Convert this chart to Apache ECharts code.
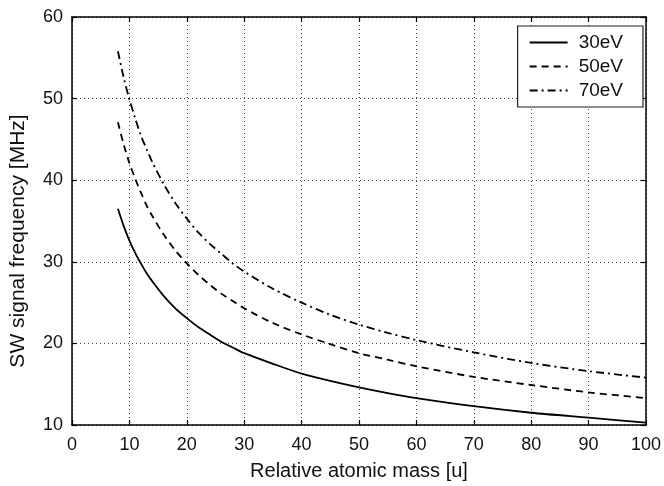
<!DOCTYPE html>
<html><head><meta charset="utf-8">
<script src="https://cdn.jsdelivr.net/npm/echarts@6/dist/echarts.min.js"></script>
<style>html,body{margin:0;padding:0;background:#fff}#c{width:664px;height:486px}</style>
</head><body><div id="c"></div>
<script>
var mass = [8, 9, 10, 11, 12, 13, 14, 16, 18, 20, 22, 24, 26, 28, 30, 35, 40, 45, 50, 55, 60, 70, 80, 90, 100];
var f30 = [36.5, 34.4, 32.6, 31.1, 29.8, 28.6, 27.6, 25.8, 24.3, 23.1, 22.0, 21.1, 20.2, 19.5, 18.8, 17.5, 16.3, 15.4, 14.6, 13.9, 13.3, 12.3, 11.5, 10.9, 10.3];
var f50 = [47.1, 44.4, 42.1, 40.2, 38.5, 36.9, 35.6, 33.3, 31.4, 29.8, 28.4, 27.2, 26.1, 25.2, 24.3, 22.5, 21.1, 19.9, 18.8, 18.0, 17.2, 15.9, 14.9, 14.0, 13.3];
var f70 = [55.8, 52.6, 49.9, 47.6, 45.5, 43.8, 42.2, 39.5, 37.2, 35.3, 33.6, 32.2, 31.0, 29.8, 28.8, 26.7, 25.0, 23.5, 22.3, 21.3, 20.4, 18.9, 17.6, 16.6, 15.8];
var names = ['30eV', '50eV', '70eV'];
var xTicks = [0, 10, 20, 30, 40, 50, 60, 70, 80, 90, 100];
var yTicks = [10, 20, 30, 40, 50, 60];

function pairs(ys){ return mass.map(function(m,i){return [m, ys[i]];}); }
var font = 'Liberation Sans, Arial, sans-serif';
var chart = echarts.init(document.getElementById('c'));
var axisLineStyle = {color:'#000', width:1.5};
function xAx(pos, labels){
  return {type:'value', position:pos, min:xTicks[0], max:xTicks[xTicks.length-1], interval:10,
    axisLine:{show:true, onZero:false, lineStyle:axisLineStyle},
    axisTick:{show:true, inside:true, length:5, lineStyle:{color:'#000', width:1.2}},
    axisLabel:{show:labels, color:'#111', fontSize:18, fontFamily:font, margin:11},
    splitLine:{show:labels, lineStyle:{type:[1,3], color:'#444', width:1}},
    name: labels ? 'Relative atomic mass [u]' : '', nameLocation:'middle', nameGap:36,
    nameTextStyle:{fontSize:20, color:'#111', fontFamily:font}};
}
function yAx(pos, labels){
  return {type:'value', position:pos, min:yTicks[0], max:yTicks[yTicks.length-1], interval:10,
    axisLine:{show:true, onZero:false, lineStyle:axisLineStyle},
    axisTick:{show:true, inside:true, length:5, lineStyle:{color:'#000', width:1.2}},
    axisLabel:{show:labels, color:'#111', fontSize:18, fontFamily:font, margin:9},
    splitLine:{show:labels, lineStyle:{type:[1,3], color:'#444', width:1}},
    name: labels ? 'SW signal frequency [MHz]' : '', nameLocation:'middle', nameGap:43,
    nameTextStyle:{fontSize:21, color:'#111', fontFamily:font, padding:[0,40,0,0]}};
}
var styles = [ 'solid', [7,5], [8,4,2,4] ];
var data = [f30, f50, f70];
chart.setOption({
  animation:false,
  grid:{left:72, right:16, top:17, bottom:57},
  xAxis:[xAx('bottom', true), xAx('top', false)],
  yAxis:[yAx('left', true), yAx('right', false)],
  legend:{
    data:names, orient:'vertical', right:21, top:26, align:'left',
    backgroundColor:'#fff', borderColor:'#222', borderWidth:1.2, borderRadius:0,
    padding:[7,20,7,11], itemWidth:38, itemHeight:14, itemGap:5,
    itemStyle:{opacity:0},
    textStyle:{fontSize:19, color:'#111', fontFamily:font, padding:[0,0,0,6]}
  },
  series: data.map(function(d,i){
    return {type:'line', name:names[i], data:pairs(d), smooth:0.3, showSymbol:false, symbol:'none',
      xAxisIndex:0, yAxisIndex:0,
      lineStyle:{color:'#000', width:1.8, type:styles[i]}, itemStyle:{color:'#000'}};
  })
});
</script></body></html>
